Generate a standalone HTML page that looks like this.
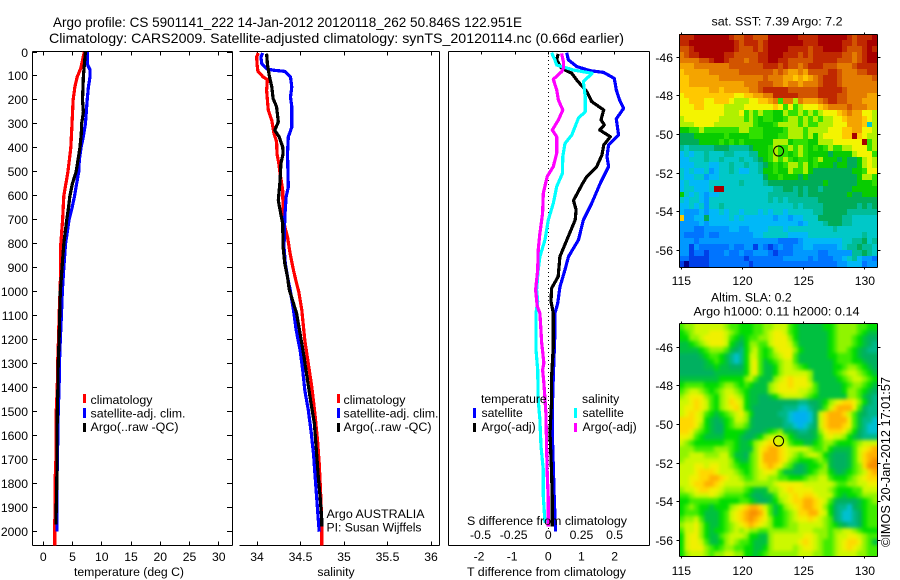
<!DOCTYPE html>
<html lang="en">
<head>
<meta charset="utf-8">
<title>Argo profile chart</title>
<style>
html,body{margin:0;padding:0;background:#fff;width:900px;height:580px;overflow:hidden}
svg{display:block}
text{font-family:"Liberation Sans",sans-serif;font-size:12.2px;fill:#000}
</style>
</head>
<body>
<svg id="chart" xmlns="http://www.w3.org/2000/svg" width="900" height="580" viewBox="0 0 900 580">
<defs>
<filter id="sla-smooth" x="0" y="0" width="1" height="1" filterUnits="objectBoundingBox" color-interpolation-filters="sRGB"><feGaussianBlur stdDeviation="1.9"/></filter>
<clipPath id="sla-clip"><rect x="680" y="324" width="198" height="233"/></clipPath>
</defs>
<rect x="0" y="0" width="900" height="580" fill="#fff"/>
<g id="maps"></g>
<g clip-path="url(#sla-clip)"><g id="maps2" filter="url(#sla-smooth)"></g></g>
<g id="axes"></g>
<g id="lines"></g>
<g id="labels"></g>

<text x="53" y="27" style="font-size:14px" textLength="469" lengthAdjust="spacingAndGlyphs">Argo profile: CS 5901141_222 14-Jan-2012 20120118_262 50.846S 122.951E</text>
<text x="49" y="43" style="font-size:14px" textLength="575" lengthAdjust="spacingAndGlyphs">Climatology: CARS2009. Satellite-adjusted climatology: synTS_20120114.nc (0.66d earlier)</text>

<text x="129" y="576" text-anchor="middle" textLength="110" lengthAdjust="spacingAndGlyphs">temperature (deg C)</text>
<text x="336" y="576" text-anchor="middle">salinity</text>
<text x="467" y="576" textLength="159" lengthAdjust="spacingAndGlyphs">T difference from climatology</text>
<text x="467" y="525" textLength="160" lengthAdjust="spacingAndGlyphs">S difference from climatology</text>

<g>
<rect x="83" y="394" width="3" height="9" fill="#f00"/>
<text x="90.5" y="404" textLength="62" lengthAdjust="spacingAndGlyphs">climatology</text>
<rect x="83" y="408" width="3" height="10" fill="#00f"/>
<text x="90.5" y="417.5" textLength="95" lengthAdjust="spacingAndGlyphs">satellite-adj. clim.</text>
<rect x="83" y="423" width="3" height="9" fill="#000"/>
<text x="90.5" y="431" textLength="88" lengthAdjust="spacingAndGlyphs">Argo(..raw -QC)</text>
</g>
<g>
<rect x="337" y="394" width="3" height="9" fill="#f00"/>
<text x="343.5" y="404" textLength="62" lengthAdjust="spacingAndGlyphs">climatology</text>
<rect x="337" y="408" width="3" height="10" fill="#00f"/>
<text x="343.5" y="417.5" textLength="95" lengthAdjust="spacingAndGlyphs">satellite-adj. clim.</text>
<rect x="337" y="423" width="3" height="9" fill="#000"/>
<text x="343.5" y="431" textLength="88" lengthAdjust="spacingAndGlyphs">Argo(..raw -QC)</text>
</g>
<text x="326.5" y="518" textLength="98" lengthAdjust="spacingAndGlyphs">Argo AUSTRALIA</text>
<text x="326.5" y="531.5" textLength="95" lengthAdjust="spacingAndGlyphs">PI: Susan Wijffels</text>

<g>
<text x="481" y="403">temperature</text>
<rect x="473" y="408" width="3" height="10" fill="#00f"/>
<text x="481.5" y="417">satellite</text>
<rect x="473" y="423" width="3" height="9" fill="#000"/>
<text x="481.5" y="431">Argo(-adj)</text>
<text x="582" y="403">salinity</text>
<rect x="574" y="408" width="3" height="10" fill="#0ff"/>
<text x="582.5" y="417">satellite</text>
<rect x="574" y="423" width="3" height="9" fill="#f0f"/>
<text x="582.5" y="431">Argo(-adj)</text>
</g>

<text x="711.5" y="25.5" textLength="131" lengthAdjust="spacingAndGlyphs">sat. SST: 7.39 Argo: 7.2</text>
<text x="711" y="301.5">Altim. SLA: 0.2</text>
<text x="693.5" y="315.5" textLength="166" lengthAdjust="spacingAndGlyphs">Argo h1000: 0.11 h2000: 0.14</text>
<text transform="translate(890,547) rotate(-90)" style="font-size:13px" textLength="170" lengthAdjust="spacingAndGlyphs">©IMOS 20-Jan-2012 17:01:57</text>
</svg>

<script>
// ---------- axis ticks ----------
const depthTicks = [0,100,200,300,400,500,600,700,800,900,1000,1100,1200,1300,1400,1500,1600,1700,1800,1900,2000];
const tempTicks = [0,5,10,15,20,25,30];
const salTicks = [34,34.5,35,35.5,36];
const salTickLabels = ['34','34.5','35','35.5','36'];
const tDiffTicks = [-2,-1,0,1,2];
const sDiffTicks = [-0.5,-0.25,0,0.25,0.5];
const sDiffTickLabels = ['-0.5','-0.25','0','0.25','0.5'];
const lonTicks = [115,120,125,130];
const latTicks = [-46,-48,-50,-52,-54,-56];

// ---------- temperature profiles ----------
const tempClimDepth = [0,35,69,104,145,201,300,400,500,600,700,800,900,1000,1100,1200,1300,1400,1500,1600,1700,1800,1900,2000,2057];
const tempClimValue = [7.0,6.7,6.4,5.8,5.4,5.1,4.9,4.7,4.2,3.5,3.3,3.0,3.0,2.85,2.7,2.6,2.45,2.4,2.2,2.2,2.15,2.0,2.0,1.95,1.95];
const tempSatDepth = [0,50,75,100,150,200,250,300,350,400,450,500,550,600,650,700,750,800,900,1000,1100,1200,1300,1400,1500,1600,1700,1800,1900,2000];
const tempSatValue = [7.5,7.5,8.0,8.0,7.7,7.5,7.35,7.2,6.85,6.45,6.15,6.05,5.7,5.35,4.9,4.4,4.1,3.8,3.5,3.25,3.1,2.9,2.75,2.7,2.55,2.5,2.4,2.35,2.35,2.35];
const tempArgoDepth = [0,100,200,250,300,340,400,500,550,600,650,700,800,900,1000,1100,1200,1300,1400,1500,1600,1700,1800,1970];
const tempArgoValue = [7.2,6.85,6.7,6.85,6.55,6.5,6.25,5.6,4.95,4.55,4.3,4.0,3.5,3.2,2.9,2.8,2.7,2.55,2.5,2.4,2.35,2.35,2.3,2.15];

// ---------- salinity profiles ----------
const salClimDepth = [4,20,49,81,104,115,160,201,243,285,340,375,424,465,507,576,674,729,771,840,910,965,1000,1076,1201,1299,1396,1507,1618,1715,1826,1965,2057];
const salClimValue = [34.015,33.996,34.0,34.01,34.07,34.12,34.11,34.12,34.13,34.17,34.195,34.225,34.23,34.25,34.265,34.295,34.30,34.32,34.35,34.38,34.42,34.455,34.48,34.515,34.55,34.59,34.63,34.665,34.695,34.715,34.73,34.745,34.745];
const salSatDepth = [4,21,49,70,76,81,104,146,188,229,313,354,424,493,563,604,688,757,813,882,938,990,1076,1160,1243,1326,1410,1493,1576,1674,1757,1854,1951,2000];
const salSatValue = [34.065,34.045,34.055,34.11,34.19,34.32,34.385,34.40,34.385,34.40,34.40,34.36,34.35,34.355,34.36,34.335,34.32,34.315,34.31,34.325,34.35,34.38,34.42,34.45,34.495,34.525,34.55,34.59,34.62,34.65,34.665,34.685,34.705,34.715];
const salArgoDepth = [7,49,97,146,194,229,292,326,354,396,424,465,535,618,660,715,813,882,938,990,1090,1174,1271,1368,1451,1549,1674,1771,1854,1951,1979];
const salArgoValue = [34.11,34.12,34.14,34.17,34.185,34.225,34.245,34.205,34.255,34.295,34.30,34.275,34.265,34.245,34.265,34.295,34.30,34.32,34.35,34.37,34.455,34.495,34.54,34.58,34.615,34.66,34.685,34.705,34.725,34.745,34.745];

// ---------- difference profiles ----------
const tDiffSatDepth = [3,33,61,78,85,110,158,200,235,279,346,387,436,478,547,631,700,783,853,908,978,1050,1089,1172,1353,1450,1589,1728,1867,2000];
const tDiffSatValue = [0.556,0.606,0.859,1.263,1.667,1.99,2.05,2.15,2.27,2.05,2.12,1.82,1.77,1.82,1.57,1.31,1.06,0.91,0.61,0.505,0.354,0.28,0.2,0.2,0.15,0.13,0.12,0.15,0.18,0.22];
const tDiffArgoDepth = [8,33,68,89,117,165,207,242,283,304,325,353,388,429,478,519,554,619,658,700,783,853,936,985,1040,1089,1228,1353,1450,1589,1756,1867,1978];
const tDiffArgoValue = [0.30,0.25,0.40,0.71,0.86,1.16,1.31,1.67,1.59,1.69,1.55,1.87,1.67,1.62,1.46,1.16,1.01,0.76,0.84,0.81,0.56,0.35,0.30,0.10,0.08,0.15,0.15,0.10,0.10,0.05,0.10,0.12,0.12];
const sDiffSatDepth = [3,33,54,75,89,124,186,249,276,346,381,436,506,561,631,700,783,853,908,992,1040,1089,1242,1325,1450,1533,1644,1742,1853,1964];
const sDiffSatValue = [0.025,0.05,0.063,0.19,0.33,0.265,0.278,0.278,0.227,0.177,0.126,0.109,0.106,0.063,0.038,0,-0.025,-0.063,-0.076,-0.088,-0.08,-0.093,-0.093,-0.08,-0.076,-0.063,-0.055,-0.038,-0.038,-0.025];
const sDiffArgoDepth = [6,40,68,82,114,158,200,242,283,325,353,422,478,519,589,672,756,825,908,992,1061,1089,1214,1297,1325,1381,1506,1644,1756,1867,1978];
const sDiffArgoValue = [0.10,0.114,0.114,0.10,0.038,0.063,0.076,0.109,0.076,0.03,0.063,0.063,0.038,-0.008,-0.038,-0.043,-0.063,-0.076,-0.08,-0.096,-0.083,-0.063,-0.05,-0.033,-0.043,-0.033,-0.018,-0.013,-0.008,0,0];

// ---------- map marker ----------
const argoLon = [122.95];
const argoLat = [-50.85];

// ---------- SST map levels (one character per cell, north to south) ----------
const sstLevels = [
"ggghhhhhhhgffggfffhhhhhhgggghhhhhhgfgggh",
"gghhhhhhhhhgfgggfghhhhhhhggghhhhhggfgghh",
"ffghhhhhhhhgfffgfghhhhggggfgghhhhgfffghg",
"efgghhhhhggfffffgghhhgggfgfggggggffefghh",
"eeeeffghhgfffeffgghhggfffffgggggfffefghh",
"dddeeeeeeefffffffgggfgffefgggfffeeefgggg",
"cdddddeeeeeefffffffefeddedffffggfeeeffgg",
"ccddddddeeeeeeeeefeeeddcdcdefgggfeeeeeef",
"ccdddddddddddeeefffeedeedeeefgggfeeeeeee",
"ccccccddcdddddeefgggggffffffgggggfeeeeee",
"bccccccccccbbccddeegggggffffggggffeeeedd",
"bbcccbbcccbaaabbccde9eeaedddefggffeeeddd",
"bbbccbbbbaaaabbbbbbcb9b9abbbcdeeeefeeedd",
"bbbbbbbbbaaab9a9a9988a99a9a9abbbcdeddbba",
"abbbbbbbaaaaa9a9899889aa9a9a9aabbcdddcba",
"aaabbbbaaaaaaaa98889aaaa9a99aaabbbdddc5a",
"8899a9999999aa99988889aaa9aaaabbbccddbba",
"7778888889888899988899aaa9a8abbbbcchcbaa",
"7777888898989888888aaa899988aaabbbbbbh9a",
"6566666777666678889a99a9a98989a99aabbb9a",
"4545565556655566889a9989a9888878888abbb9",
"4455565565556556789a9a989989a88878778aba",
"4445554455655655678989aa9a89888788778aba",
"5454453455654455688988a99a877777777889bb",
"5445534455555555578898887877777777778aa9",
"4544445555556555567777777777787777778889",
"4554445hh5555555555667767677677777788888",
"8545434455555555556666667677777777877888",
"5455435555555555556565666666777777777777",
"4454535565555555555555565666677777776767",
"4333434454554555454554555556677777666666",
"c334474444545444444344344555777776655555",
"3333434444444444444444443455567776655555",
"3332233333443344445554555555555655555555",
"3222232233333334455555444455555555555655",
"3332333333333333333322223444444445566756",
"3313222222322331321232233443333345667665",
"3312212223223223332122233333223333366765",
"2211112222222122222223333323222334564332",
"1011112222222212222222222222222233444233"
];

// ---------- SLA map levels (one character per cell, north to south) ----------
const slaLevels = [
"6778888887665556677888654444455677776655",
"5678889998765556678998654444445677776544",
"5577899998654566778999754444445677765433",
"4456789998543577668999864444445677765432",
"4444567776432578656899975444445677654322",
"3333456654212588656789964444445566654333",
"3333345654212589645678864444444566655433",
"3333344544333589644578876544444556776543",
"3333333444444589644578888874444567887654",
"4444444455555786444789a99974444456788765",
"5666655567765654447899a99986444445677654",
"6788765678876544447899998876444445776543",
"7899976578987544334578888765444444776432",
"889a986578a9854433333333223345789aa97532",
"899a9865789a8543333332221123468abbb96322",
"89a98654567897533333221000138abbba864322",
"aaa98543456887433333321000138abbbb964221",
"aaa97543356776433333322101238abbba964211",
"aa9765433555543334567443223479aaa9753211",
"9986544445554334578887543334689887543222",
"87655555566544578 9a9886554456776555678 8",
"77766667776544479abba98888766754444689ab",
"77888777886443679bbba9876788754333468abb",
"78888888887544679bbba9765556764333468abc",
"88899899887655679aba97643455674333467acc",
"8889aaa9888765678998644334567754345678ab",
"8899aabba9887667887766555677886555678 9a",
"889aabba988887777778999998888887667 7889",
"7889aa99877776544477 89a99998887655566 8",
"66788898766665433446889a9aa9888654556777",
"55666666555566543345789aabba986433334567",
"5676554555789abba8645789abba975322134566",
"566654445689abccb9645678aabb985321123566",
"6778644456 89abcba975567899a987632112356",
"7889754456789aba98755677888887654322356 6",
"68897545567878776677777788877767788765 5",
"58997544678887554478888889987767889987 6",
"5899864457876654447888889a98766789aa9764",
"58999765677665544578888789987667 89a9876",
"57888767788775545677777788877667888877 6"
];

// ---------- styles (colour ramps, separate from the values) ----------
const sstScaleKeys = "0123456789abcdefgh";
const sstRamp = ['#00008c','#0040e8','#0074ff','#0098ff','#00b8f8','#00c8c8','#00bc98','#00ac58','#08cc00','#30e000','#b0f000','#f4f400','#ffc800','#f4a400','#e47c00','#d25400','#c02800','#a80000'];
const slaScaleKeys = "0123456789abc";
const slaRamp = ['#00b0f0','#00c0d0','#00b888','#00b060','#00c040','#00dc00','#40ec00','#90f400','#ccf800','#f0f000','#ffd800','#ffb000','#f89000'];

const SVGNS = 'http://www.w3.org/2000/svg';
const axesG = document.getElementById('axes');
const linesG = document.getElementById('lines');
const labelsG = document.getElementById('labels');
const mapsG = document.getElementById('maps');
const maps2G = document.getElementById('maps2');

// axis functions
const yDepth = d => 52 + d * 0.23985;
const xTemp = t => 43.3 + t * 5.85;
const xSal = s => 257 + (s - 34) * 87;
const xTDiff = t => 548.3 + t * 33.15;
const xSDiff = s => 548.3 + s * 132.6;
const xLon = lon => 681.3 + (lon - 115) * 12.24;
const ySstLat = lat => 57.3 + (-46 - lat) * 19.33;
const ySlaLat = lat => 347.3 + (-46 - lat) * 19.33;

function seg(x1, y1, x2, y2, name) {
  const l = document.createElementNS(SVGNS, 'line');
  l.setAttribute('x1', x1); l.setAttribute('y1', y1);
  l.setAttribute('x2', x2); l.setAttribute('y2', y2);
  l.setAttribute('stroke', '#000');
  l.setAttribute('stroke-width', 1);
  l.setAttribute('shape-rendering', 'crispEdges');
  
  
  axesG.appendChild(l);
}
function label(x, y, str, anchor, name) {
  const t = document.createElementNS(SVGNS, 'text');
  t.setAttribute('x', x); t.setAttribute('y', y);
  t.setAttribute('text-anchor', anchor);
  t.textContent = str;
  
  
  labelsG.appendChild(t);
}
function profile(depths, values, xFn, colour, name) {
  const p = document.createElementNS(SVGNS, 'polyline');
  p.setAttribute('points', depths.map((d, i) => xFn(values[i]).toFixed(1) + ',' + yDepth(d).toFixed(1)).join(' '));
  p.setAttribute('fill', 'none');
  p.setAttribute('stroke', colour);
  p.setAttribute('stroke-width', 3.2);
  p.setAttribute('stroke-linejoin', 'round');
  p.setAttribute('shape-rendering', 'crispEdges');
  
  
  linesG.appendChild(p);
}

const pxRound = v => Math.floor(v) + 0.5;
const topY = 51.5, botY = 545.5;

// temperature panel frame
seg(32.5, topY, 232.5, topY, 'temperature-panel-top');
seg(32.5, botY, 232.5, botY, 'temperature-panel-bottom');
seg(32.5, topY, 32.5, botY, 'temperature-panel-left');
seg(232.5, topY, 232.5, botY, 'temperature-panel-right');
depthTicks.forEach(d => {
  const y = pxRound(yDepth(d));
  seg(32.5, y, 37, y, 'depth-tick-left');
  seg(227, y, 232.5, y, 'depth-tick-right');
  label(28, y + 4.5, String(d), 'end', 'depth-tick-label');
});
tempTicks.forEach(t => {
  const x = pxRound(xTemp(t));
  seg(x, topY, x, topY + 4, 'temperature-tick-top');
  seg(x, botY - 4, x, botY, 'temperature-tick-bottom');
  label(xTemp(t), 561, String(t), 'middle', 'temperature-tick-label');
});

// salinity panel frame (no left spine)
seg(239.5, topY, 439.5, topY, 'salinity-panel-top');
seg(239.5, botY, 439.5, botY, 'salinity-panel-bottom');
seg(439.5, topY, 439.5, botY, 'salinity-panel-right');
salTicks.forEach((s, i) => {
  const x = pxRound(xSal(s));
  seg(x, topY, x, topY + 4, 'salinity-tick-top');
  seg(x, botY - 4, x, botY, 'salinity-tick-bottom');
  label(xSal(s), 561, salTickLabels[i], 'middle', 'salinity-tick-label');
});

// difference panel frame
seg(448.5, topY, 649.5, topY, 'difference-panel-top');
seg(448.5, botY, 649.5, botY, 'difference-panel-bottom');
seg(448.5, topY, 448.5, botY, 'difference-panel-left');
seg(649.5, topY, 649.5, botY, 'difference-panel-right');
tDiffTicks.forEach(t => {
  const x = pxRound(xTDiff(t));
  seg(x, topY, x, topY + 3, 'difference-tick-top');
  label(xTDiff(t) - (t < 0 ? 3 : 0), 560.5, String(t), 'middle', 't-difference-tick-label');
});
sDiffTicks.forEach((s, i) => {
  label(xSDiff(s) - (s < 0 ? 1.5 : 0), 539, sDiffTickLabels[i], 'middle', 's-difference-tick-label');
});

// zero reference line
const zeroLine = document.createElementNS(SVGNS, 'line');
zeroLine.setAttribute('x1', pxRound(xTDiff(0)));
zeroLine.setAttribute('x2', pxRound(xTDiff(0)));
zeroLine.setAttribute('y1', yDepth(0));
zeroLine.setAttribute('y2', yDepth(2000));
zeroLine.setAttribute('stroke', '#000');
zeroLine.setAttribute('stroke-width', 1);
zeroLine.setAttribute('stroke-dasharray', '1 3');
zeroLine.setAttribute('shape-rendering', 'crispEdges');


linesG.appendChild(zeroLine);

// profile lines
profile(tempClimDepth, tempClimValue, xTemp, '#f00', 'temperature-climatology-line');
profile(tempSatDepth, tempSatValue, xTemp, '#00f', 'temperature-satellite-line');
profile(tempArgoDepth, tempArgoValue, xTemp, '#000', 'temperature-argo-line');
profile(salClimDepth, salClimValue, xSal, '#f00', 'salinity-climatology-line');
profile(salSatDepth, salSatValue, xSal, '#00f', 'salinity-satellite-line');
profile(salArgoDepth, salArgoValue, xSal, '#000', 'salinity-argo-line');
profile(tDiffSatDepth, tDiffSatValue, xTDiff, '#00f', 't-difference-satellite-line');
profile(tDiffArgoDepth, tDiffArgoValue, xTDiff, '#000', 't-difference-argo-line');
profile(sDiffSatDepth, sDiffSatValue, xSDiff, '#0ff', 's-difference-satellite-line');
profile(sDiffArgoDepth, sDiffArgoValue, xSDiff, '#f0f', 's-difference-argo-line');

// heatmaps
function drawMap(levels, keys, ramp, yLat, latTop, latBot, labelY, mapName, host, bleed) {
  const lonLeft = 114.84, lonRight = 130.99;
  const nRows = levels.length;
  levels.forEach((raw, r) => {
    const row = raw.replace(/ /g, '');
    const nCols = 40;
    const y0 = Math.round(yLat(latTop + (latBot - latTop) * r / nRows)) - (r === 0 ? bleed : 0);
    const y1 = Math.round(yLat(latTop + (latBot - latTop) * (r + 1) / nRows)) + (r === nRows - 1 ? bleed : 0);
    for (let c = 0; c < nCols; c++) {
      const ch = row[Math.min(c, row.length - 1)];
      const x0 = Math.round(xLon(lonLeft + (lonRight - lonLeft) * c / nCols)) - (c === 0 ? bleed : 0);
      const x1 = Math.round(xLon(lonLeft + (lonRight - lonLeft) * (c + 1) / nCols)) + (c === nCols - 1 ? bleed : 0);
      const cell = document.createElementNS(SVGNS, 'rect');
      cell.setAttribute('x', x0);
      cell.setAttribute('y', y0);
      cell.setAttribute('width', x1 - x0);
      cell.setAttribute('height', y1 - y0);
      cell.setAttribute('fill', ramp[Math.max(0, keys.indexOf(ch))]);
      cell.setAttribute('shape-rendering', 'crispEdges');
      
      
      host.appendChild(cell);
    }
  });
  const left = 679.5, right = 877.5;
  const top = pxRound(yLat(latTop)), bot = pxRound(yLat(latBot));
  seg(left, top, right, top, mapName + '-top');
  seg(left, bot, right, bot, mapName + '-bottom');
  seg(left, top, left, bot, mapName + '-left');
  seg(right, top, right, bot, mapName + '-right');
  lonTicks.forEach(lon => {
    const x = pxRound(xLon(lon));
    seg(x, top - 2, x, top, mapName + '-lon-tick-top');
    seg(x, bot, x, bot + 2, mapName + '-lon-tick-bottom');
    label(xLon(lon), labelY, String(lon), 'middle', mapName + '-lon-label');
  });
  latTicks.forEach(lat => {
    const y = pxRound(yLat(lat));
    seg(left - 3, y, left, y, mapName + '-lat-tick-left');
    seg(right, y, right + 3, y, mapName + '-lat-tick-right');
    label(673, y + 4.5, String(lat), 'end', mapName + '-lat-label');
  });
  argoLon.forEach((lon, i) => {
    const m = document.createElementNS(SVGNS, 'circle');
    m.setAttribute('cx', xLon(lon));
    m.setAttribute('cy', yLat(argoLat[i]));
    m.setAttribute('r', 5);
    m.setAttribute('fill', 'none');
    m.setAttribute('stroke', '#000');
    m.setAttribute('stroke-width', 1);
    
    
    axesG.appendChild(m);
  });
}
drawMap(sstLevels, sstScaleKeys, sstRamp, ySstLat, -44.81, -56.86, 285, 'sst-map', mapsG, 0);
drawMap(slaLevels, slaScaleKeys, slaRamp, ySlaLat, -44.78, -56.83, 575, 'sla-map', maps2G, 8);
</script>
</body>
</html>
